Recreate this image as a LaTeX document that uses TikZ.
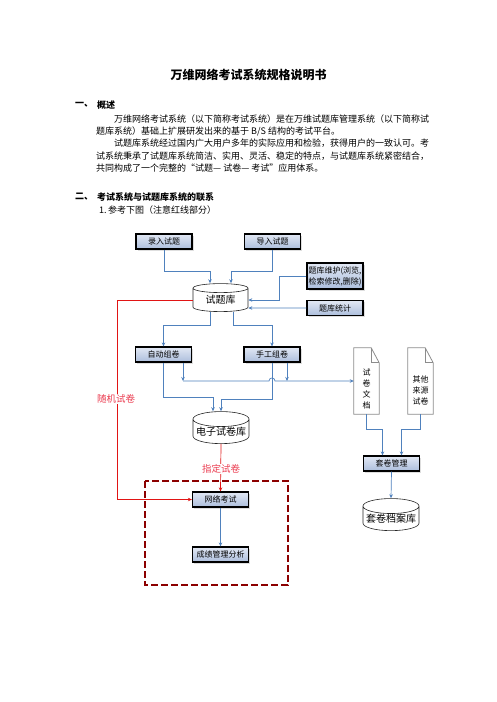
\documentclass[tikz,border=0pt]{standalone}
\usepackage{fontspec}
\setmainfont{Noto Sans CJK SC}
\usetikzlibrary{arrows.meta,positioning,calc,shapes.geometric,shadows}
\definecolor{linkblue}{RGB}{79,129,189}
\definecolor{boxtop}{RGB}{226,232,244}
\definecolor{boxbot}{RGB}{172,190,220}
\definecolor{redline}{RGB}{225,20,20}
\definecolor{redtext}{RGB}{235,60,80}
\definecolor{darkred}{RGB}{140,0,0}
\definecolor{docgray}{RGB}{140,140,140}
\tikzset{
  body/.style={anchor=west, inner sep=0pt, font=\fontsize{9}{11}\selectfont},
  head/.style={anchor=west, inner sep=0pt, font=\fontsize{9}{11}\selectfont\bfseries},
  proc/.style={draw=black, line width=1.2pt, top color=boxtop, bottom color=boxbot,
    drop shadow={shadow xshift=1.5pt, shadow yshift=-1.5pt, fill=black!25},
    minimum width=56pt, minimum height=15pt, inner sep=1pt, align=center,
    font=\fontsize{8}{10}\selectfont},
  db/.style={cylinder, shape border rotate=90, aspect=0.3, draw=black!85, fill=white,
    line width=0.6pt, minimum width=55pt, minimum height=28pt, inner sep=0pt,
    font=\fontsize{10}{12}\selectfont},
  docnode/.style={minimum width=25pt, minimum height=66pt, inner sep=0pt},
  docline/.style={draw=docgray, fill=white, line width=0.8pt},
  doctext/.style={align=center, inner sep=0pt, font=\fontsize{8}{11}\selectfont},
  flow/.style={-{Stealth[length=4pt,width=3.5pt]}, draw=linkblue, line width=0.7pt},
  redflow/.style={-{Stealth[length=4pt,width=3.5pt]}, draw=redline, line width=0.7pt},
  redlab/.style={fill=white, text=redtext, inner sep=1pt, font=\fontsize{9.5}{11}\selectfont},
  dashbox/.style={draw=darkred, line width=1.1pt, dash pattern=on 7pt off 3pt},
}

\begin{document}
\begin{tikzpicture}[x=1pt,y=-1pt]
  \fill[white] (0,0) rectangle (496,702);
  \useasboundingbox (0,0) rectangle (496,702);

  % page text
  \node[font=\fontsize{12}{14}\selectfont\bfseries] (title) at (248.5,75) {万维网络考试系统规格说明书};
  \node[head] (h1) at (75,105) {一、};
  \node[head] (h1t) at (97,105) {概述};
  \node[body] (p1) at (114,119) {万维网络考试系统（以下简称考试系统）是在万维试题库管理系统（以下简称试};
  \node[body] (p2) at (96,131) {题库系统）基础上扩展研发出来的基于 B/S 结构的考试平台。};
  \node[body] (p3) at (114,143) {试题库系统经过国内广大用户多年的实际应用和检验，获得用户的一致认可。考};
  \node[body] (p4) at (96,156) {试系统秉承了试题库系统简洁、实用、灵活、稳定的特点，与试题库系统紧密结合，};
  \node[body] (p5) at (96,168) {共同构成了一个完整的“试题— 试卷— 考试”应用体系。};
  \node[head] (h2) at (75,197) {二、};
  \node[head] (h2t) at (97,197) {考试系统与试题库系统的联系};
  \node[body] (n1) at (99,210) {1.};
  \node[body] (n1t) at (108,210) {参考下图（注意红线部分）};

  % frame
  \draw[dashbox] (145,481) rectangle (288,585);

  % boxes
  \node[proc] (lr) at (164,241.5) {录入试题};
  \node[proc] (dr) at (272.5,241.5) {导入试题};
  \node[proc, minimum height=26pt, font=\fontsize{8}{11}\selectfont] (wh) at (335,276) {题库维护(浏览,\\检索修改,删除)};
  \node[proc] (tj) at (335,308) {题库统计};
  \node[db] (tk) at (220.5,300) {试题库};
  \node[proc] (zd) at (163.5,354.5) {自动组卷};
  \node[proc] (sg) at (272,354.5) {手工组卷};
  \node[db, minimum width=56pt, minimum height=27pt] (dzk) at (221,431.5) {电子试卷库};
  \node[docnode] (doc1) at (366.5,381) {};
  \node[docnode] (doc2) at (420.5,381) {};
  \node[proc] (tjgl) at (391.5,463.5) {套卷管理};
  \node[db, minimum width=56pt, minimum height=27pt] (tda) at (391,518.5) {套卷档案库};
  \node[proc] (wk) at (220.5,499.5) {网络考试};
  \node[proc] (cj) at (220.5,554.5) {成绩管理分析};

  % documents
  \foreach \d in {doc1,doc2}{
    \draw[docline] (\d.north west) -- ([xshift=-8pt]\d.north east)
      -- ([yshift=-15pt]\d.north east) -- (\d.south east) -- (\d.south west) -- cycle;
    \draw[docline, fill=none] ([xshift=-8pt]\d.north east)
      -- ([xshift=-8pt,yshift=-15pt]\d.north east) -- ([yshift=-15pt]\d.north east);
  }
  \node[doctext] (doc1t) at ([yshift=-8pt]doc1.center) {试\\卷\\文\\档};
  \node[doctext] (doc2t) at ([yshift=-9pt]doc2.center) {其他\\来源\\试卷};

  % blue connectors
  \draw[flow] (lr.south) -- ++(0,21.5) -| ([xshift=-10.5pt]tk.north);
  \draw[flow] (dr.south) -- ++(0,21.5) -| ([xshift=10.5pt]tk.north);
  \draw[flow] (wh.west) -- ++(-27,0) |- (tk.east);
  \draw[flow] (tj.west) -- ([yshift=-8pt]tk.east);
  \draw[flow] ([xshift=-10.5pt]tk.south) -- ++(0,13) -| (zd.north);
  \draw[flow] ([xshift=12.5pt]tk.south) -- ++(0,13) -| (sg.north);
  \draw[flow] (zd.south) -- ++(0,35) -| ([xshift=-8pt]dzk.north);
  \draw[flow] (sg.south) -- ++(0,37) -| (dzk.north);
  \coordinate (hop) at (sg.south |- doc1.west);
  \draw[flow] ([xshift=19.5pt]zd.south) -- ([xshift=19.5pt]zd.south |- doc1.west);
  \draw[flow] ([xshift=15pt]sg.south) -- ([xshift=15pt]sg.south |- doc1.west);
  \draw[flow] ([xshift=19.5pt]zd.south |- doc1.west) -- ([xshift=-3pt]hop)
    .. controls +(0,-4) and +(0,-4) .. ([xshift=3pt]hop) -- (doc1.west);
  \draw[flow] (doc1.south) -- ++(0,15) -| ([xshift=-9pt]tjgl.north);
  \draw[flow] (doc2.south) -- ++(0,15) -| ([xshift=10pt]tjgl.north);
  \draw[flow] (tjgl.south) -- (tda.north);
  \draw[flow] (wk.south) -- (cj.north);

  % red connectors
  \coordinate (rl) at (117,0);
  \draw[redflow] (tk.west) -- (tk.west -| rl) |- (wk.west);
  \draw[redflow] (dzk.south) -- (wk.north);
  \node[redlab] (sj) at (116,399) {随机试卷};
  \node[redlab] (zs) at (221,469) {指定试卷};
\end{tikzpicture}
\end{document}
